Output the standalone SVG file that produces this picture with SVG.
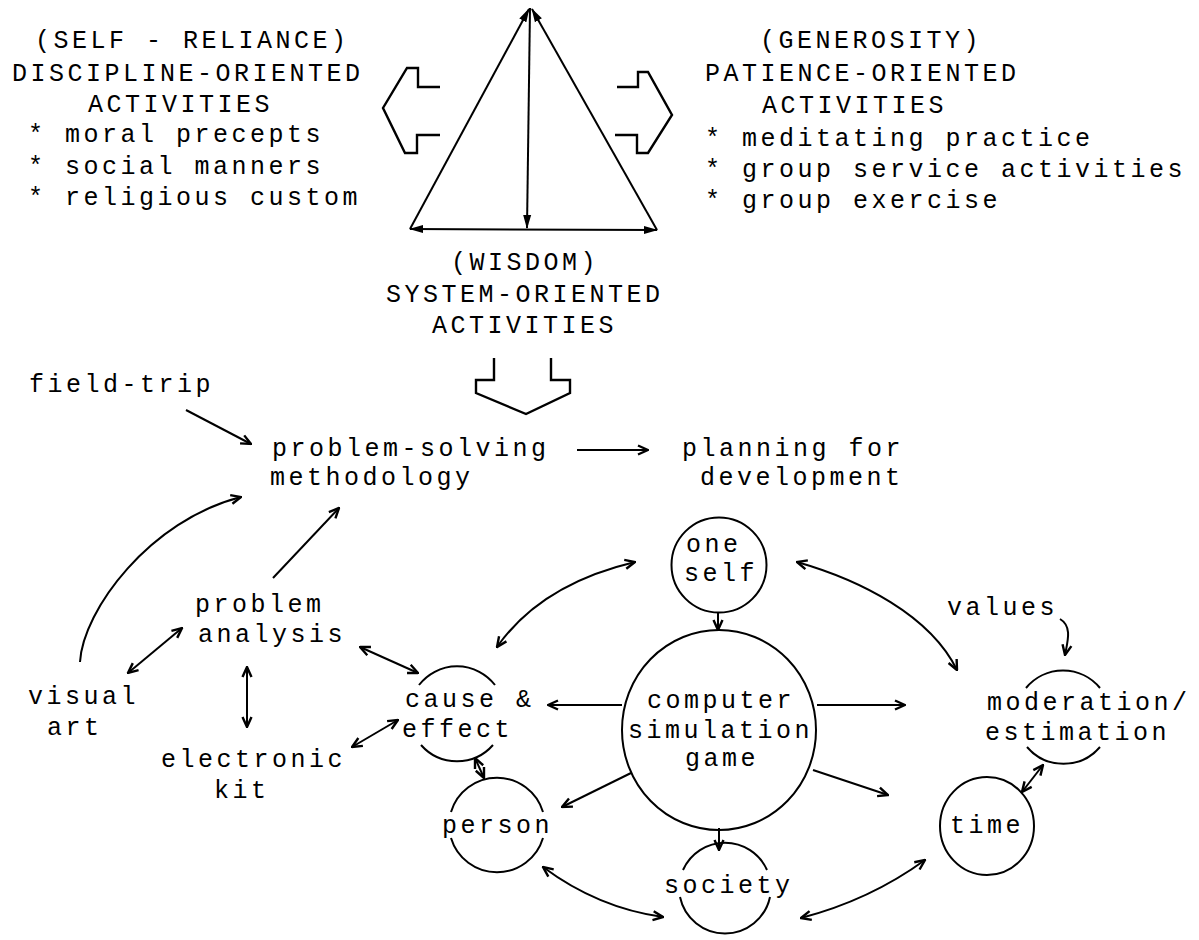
<svg xmlns="http://www.w3.org/2000/svg" width="1199" height="940" viewBox="0 0 1199 940">
<defs>
<style>
.t{font-family:"Liberation Mono","DejaVu Sans Mono",monospace;font-size:25px;letter-spacing:3.5px;fill:#000}
.ln{fill:none;stroke:#000;stroke-width:2}
.bk{fill:none;stroke:#000;stroke-width:2.4;stroke-linejoin:miter}
.a1{marker-end:url(#ah)}
.a2{marker-start:url(#ah);marker-end:url(#ah)}
.f1{marker-end:url(#tf)}
.f2{marker-start:url(#tf);marker-end:url(#tf)}
</style>
<marker id="ah" viewBox="0 0 12 12" refX="11" refY="6" markerWidth="12" markerHeight="12" markerUnits="userSpaceOnUse" orient="auto-start-reverse">
<path d="M1,1.5 L11,6 L1,10.5" fill="none" stroke="#000" stroke-width="2.4"/>
</marker>
<marker id="tf" viewBox="0 0 14 10" refX="13" refY="5" markerWidth="14" markerHeight="10" markerUnits="userSpaceOnUse" orient="auto-start-reverse">
<path d="M0,1 L14,5 L0,9 z" fill="#000"/>
</marker>
</defs>
<rect width="1199" height="940" fill="#fff"/>

<g id="discipline">
<text class="t" x="35" y="48">(SELF - RELIANCE)</text>
<text class="t" x="12" y="81">DISCIPLINE-ORIENTED</text>
<text class="t" x="88" y="112">ACTIVITIES</text>
<text class="t" x="28" y="142">* moral precepts</text>
<text class="t" x="28" y="174">* social manners</text>
<text class="t" x="28" y="205">* religious custom</text>
</g>

<g id="patience">
<text class="t" x="760" y="48">(GENEROSITY)</text>
<text class="t" x="705" y="81">PATIENCE-ORIENTED</text>
<text class="t" x="762" y="113">ACTIVITIES</text>
<text class="t" x="705" y="146">* meditating practice</text>
<text class="t" x="705" y="177">* group service activities</text>
<text class="t" x="705" y="208">* group exercise</text>
</g>

<g id="triangle">
<line class="ln f1" x1="410" y1="229" x2="529" y2="9"/>
<line class="ln f1" x1="657" y1="230" x2="532" y2="9"/>
<line class="ln f1" x1="530" y1="8" x2="527" y2="228"/>
<line class="ln f2" x1="410" y1="229" x2="657" y2="230"/>
</g>

<g id="block-arrows">
<polyline class="bk" points="440,87 418,87 418,68 407,68 383,108 405,153 417,153 417,135 440,135"/>
<polyline class="bk" points="617,87 638,87 638,72 648,72 672,115 648,153 637,153 637,135 615,135"/>
<polyline class="bk" points="494,358 494,380 476,380 476,393 526,414 570,393 570,380 551,380 551,358"/>
</g>

<g id="wisdom">
<text class="t" x="451" y="270">(WISDOM)</text>
<text class="t" x="386" y="302">SYSTEM-ORIENTED</text>
<text class="t" x="432" y="333">ACTIVITIES</text>
</g>

<g id="field-trip"><text class="t" x="29" y="392">field-trip</text></g>
<g id="problem-solving">
<text class="t" x="272" y="456">problem-solving</text>
<text class="t" x="270" y="485">methodology</text>
</g>
<g id="planning">
<text class="t" x="682" y="456">planning for</text>
<text class="t" x="700" y="485">development</text>
</g>
<g id="problem-analysis">
<text class="t" x="195" y="612">problem</text>
<text class="t" x="198" y="642">analysis</text>
</g>
<g id="visual-art">
<text class="t" x="28" y="704">visual</text>
<text class="t" x="47" y="735">art</text>
</g>
<g id="electronic-kit">
<text class="t" x="161" y="767">electronic</text>
<text class="t" x="214" y="798">kit</text>
</g>
<g id="cause-effect">
<path class="ln" d="M419,685 A48,48 0 0 1 495,685"/>
<path class="ln" d="M421,745 A48,48 0 0 0 493,745"/>
<text class="t" x="405" y="707">cause &amp;</text>
<text class="t" x="402" y="737">effect</text>
</g>
<g id="one-self">
<circle class="ln" cx="719" cy="565" r="47.5"/>
<text class="t" x="686" y="552">one</text>
<text class="t" x="684" y="581">self</text>
</g>
<g id="computer">
<ellipse class="ln" cx="719" cy="730" rx="97" ry="100"/>
<text class="t" x="647" y="708">computer</text>
<text class="t" x="628" y="738">simulation</text>
<text class="t" x="685" y="766">game</text>
</g>
<g id="person">
<path class="ln" d="M451,812 A48,48 0 0 1 543,812"/>
<path class="ln" d="M451,838 A48,48 0 0 0 543,838"/>
<text class="t" x="442" y="833">person</text>
</g>
<g id="society">
<path class="ln" d="M683,870 A46,46 0 0 1 767,870"/>
<path class="ln" d="M680,897 A46,46 0 0 0 770,897"/>
<text class="t" x="664" y="893">society</text>
</g>
<g id="time">
<ellipse class="ln" cx="987" cy="826" rx="47" ry="49"/>
<text class="t" x="950" y="833">time</text>
</g>
<g id="values"><text class="t" x="947" y="615">values</text></g>
<g id="moderation">
<path class="ln" d="M1026,688 A48,48 0 0 1 1100,688"/>
<path class="ln" d="M1027,747 A48,48 0 0 0 1100,747"/>
<text class="t" x="987" y="710">moderation/</text>
<text class="t" x="985" y="740">estimation</text>
</g>

<g id="connectors">
<line class="ln a1" x1="186" y1="410" x2="251" y2="444"/>
<path class="ln a1" d="M80,662 C83,610 150,520 241,497"/>
<line class="ln a1" x1="273" y1="578" x2="339" y2="508"/>
<line class="ln a1" x1="577" y1="450" x2="648" y2="450"/>
<line class="ln a2" x1="128" y1="673" x2="182" y2="628"/>
<line class="ln a2" x1="247" y1="667" x2="247" y2="727"/>
<line class="ln a2" x1="360" y1="647" x2="418" y2="673"/>
<line class="ln a2" x1="352" y1="747" x2="398" y2="720"/>
<line class="ln a2" x1="475" y1="758" x2="484" y2="778"/>
<path class="ln a2" d="M497,647 C530,600 580,575 635,562"/>
<line class="ln a1" x1="718" y1="612" x2="718" y2="630"/>
<line class="ln a1" x1="622" y1="705" x2="548" y2="705"/>
<line class="ln a1" x1="817" y1="705" x2="905" y2="705"/>
<line class="ln a1" x1="813" y1="770" x2="888" y2="795"/>
<line class="ln a1" x1="631" y1="773" x2="562" y2="807"/>
<line class="ln a1" x1="719" y1="828" x2="719" y2="850"/>
<path class="ln a2" d="M797,562 C860,580 930,615 957,670"/>
<path class="ln a1" d="M1060,619 C1072,626 1068,640 1065,655"/>
<line class="ln a2" x1="1043" y1="765" x2="1022" y2="792"/>
<path class="ln a2" d="M543,867 Q598,908 663,917"/>
<path class="ln a2" d="M801,918 Q870,900 925,860"/>
</g>
</svg>
